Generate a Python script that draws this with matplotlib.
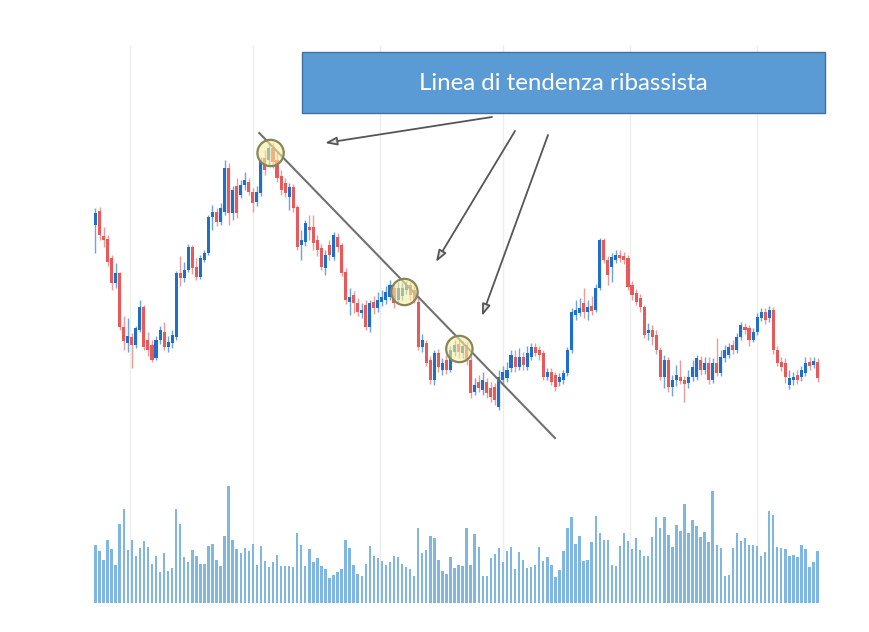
import matplotlib
matplotlib.use("Agg")
import matplotlib.pyplot as plt
from matplotlib.patches import Rectangle, FancyArrowPatch

# ---------------- data ----------------
opens = [275,289,264,261,242,217,227,173,157,163,155,170,193,160,155,142,160,168,153,157,
         163,227,222,230,253,233,223,240,247,283,288,278,288,332,287,314,305,315,318,308,
         298,307,342,340,352,340,324,317,303,313,293,255,258,273,273,260,252,232,255,243,
         263,255,228,198,205,197,187,195,173,198,192,198,200,203,212,200,204,210,215,210,
         198,153,157,140,120,147,130,140,130,148,156,147,155,140,108,118,110,118,112,113,
         93,120,122,132,143,133,143,133,143,153,150,147,123,128,125,118,120,127,150,185,
         187,197,188,194,190,212,260,240,233,240,245,244,242,215,207,202,193,167,170,165,
         150,123,140,113,120,123,120,117,123,123,140,130,137,120,137,127,142,145,155,150,
         163,173,172,160,168,182,188,182,190,150,138,137,115,120,125,123,127,138,135,138]
highs = [292,293,273,265,245,237,228,184,182,167,174,200,195,168,160,164,174,178,164,170,
         229,244,238,256,255,242,245,250,285,295,292,297,340,337,314,322,320,328,322,312,
         314,343,350,357,357,348,330,322,317,316,295,270,280,285,285,265,256,250,260,268,
         267,257,232,212,209,202,197,200,200,204,208,210,214,220,216,218,217,219,218,214,
         203,166,160,144,150,151,142,145,154,160,160,159,158,144,122,125,128,122,118,117,
         130,134,138,150,150,152,148,154,157,157,154,150,132,132,128,127,130,153,192,200,
         202,212,200,204,216,262,262,244,247,250,250,248,245,219,211,206,195,177,175,170,
         153,145,143,125,135,140,124,130,140,145,144,143,143,142,162,150,155,157,160,167,
         178,177,175,172,187,192,192,194,193,154,143,142,130,128,130,134,143,143,143,142]
lows = [247,260,253,234,210,212,170,150,148,132,152,168,150,144,138,140,156,150,148,152,
        160,214,218,228,226,220,221,238,245,270,274,275,285,275,280,282,302,310,305,288,
        294,304,325,335,332,318,305,303,290,288,250,240,254,260,250,244,230,225,240,240,
        248,224,196,185,187,184,182,170,168,186,188,194,196,200,192,197,200,206,200,197,
        150,148,134,116,115,128,125,126,128,144,142,142,135,102,105,108,105,102,98,95,
        90,116,118,128,128,130,130,130,140,144,140,120,120,115,109,114,116,124,147,180,
        184,182,180,185,188,210,237,215,218,237,238,236,210,200,195,188,162,160,155,146,
        120,112,108,104,114,116,98,112,119,120,125,126,116,117,124,124,138,142,146,147,
        160,166,154,158,165,179,176,178,146,134,129,117,111,115,116,119,124,130,132,118]
closes = [287,265,260,238,217,227,173,159,164,155,172,193,153,150,140,160,170,153,158,165,
          227,222,230,253,232,223,242,247,283,288,278,292,332,287,310,287,315,320,308,297,
          308,340,330,352,338,322,310,307,313,292,253,260,277,270,257,250,233,245,245,265,
          253,227,200,203,197,188,190,173,197,192,200,203,208,215,197,212,212,215,205,200,
          153,160,137,120,147,133,137,130,150,155,148,154,140,107,115,112,120,107,103,100,
          123,128,130,145,133,143,135,147,153,147,145,123,128,118,113,123,127,150,188,190,
          192,188,193,189,212,260,240,225,243,245,242,240,213,205,198,193,165,170,163,150,
          123,140,113,120,125,119,116,123,133,142,130,137,120,137,127,143,150,153,150,163,
          175,170,160,168,183,188,180,190,150,137,133,123,122,123,120,130,137,134,139,122]
volumes = [175,155,130,190,162,115,238,282,158,190,140,165,185,168,118,142,92,150,95,105,
           282,238,138,122,160,140,118,118,172,178,128,112,200,352,188,162,150,165,155,178,
           115,170,125,108,122,145,112,112,112,108,210,175,112,162,122,134,112,102,74,85,
           92,102,188,165,115,87,82,118,172,140,135,125,115,122,140,138,118,108,102,82,
           225,150,160,200,195,130,95,87,137,105,115,112,225,115,207,168,82,82,135,148,
           165,122,155,168,102,153,128,105,108,115,168,125,137,115,77,100,157,225,257,178,
           200,125,130,182,260,210,188,190,115,112,172,210,185,162,194,158,142,142,198,257,
           225,257,204,168,235,215,298,210,250,232,198,213,182,335,175,165,82,85,165,210,
           187,194,175,175,172,140,153,275,264,168,165,163,140,143,137,175,162,108,122,155]
grid_idx = [8.5, 39, 70.5, 101, 132.5, 164]

# trend line and touch points (index, price)
trend_x = [40.6, 113.9]
trend_y = [367, 62]
touch_x = [43.4, 76.6, 90.2]
touch_y = [347, 208, 151]

title_text = "Linea di tendenza ribassista"

# ---------------- layout ----------------
W, H = 870, 632
fig = plt.figure(figsize=(W / 100, H / 100), dpi=100)
fig.patch.set_facecolor("white")

x0px, step = 95.5, 4.034          # pixel of first candle, px per candle


def fx(px):
    return px / W


def fy(py):
    return 1 - py / H


ax = fig.add_axes([0, 0, 1, 1])
axv = fig.add_axes([0, 0, 1, 1])
for a in (ax, axv):
    a.set_xlim(-x0px / step, (W - x0px) / step)
    a.axis("off")
    a.patch.set_alpha(0)
ax.set_ylim(500 - H, 500)            # price unit == 1 px
axv.set_ylim(-(H - 603) * 3, 603 * 3)  # volume baseline at y=603px
ax.set_zorder(2)
axv.set_zorder(1)

# vertical grid lines
axv.vlines(grid_idx, 0, (603 - 45) * 3, colors="#ededed", linewidth=1, zorder=0)

# volume bars
n = len(closes)
xs = list(range(n))
axv.bar(xs, volumes, width=0.6, color="#80b7e2", edgecolor="none", zorder=1)

# candles
blue, red = "#1e6fc8", "#e85a5a"
blue_w, red_w = "#6ea3dc", "#ef9a9a"
for i in xs:
    o, h, l, c = opens[i], highs[i], lows[i], closes[i]
    up = c >= o
    ax.vlines(i, l, h, colors=blue_w if up else red_w, linewidth=1.0, zorder=2)
    lo, hi = min(o, c), max(o, c)
    ax.add_patch(Rectangle((i - 0.38, lo), 0.76, max(hi - lo, 1.2),
                           facecolor=blue if up else red, edgecolor="none", zorder=3))

# trend line
ax.plot(trend_x, trend_y, color="#707070", linewidth=1.5, zorder=5)

# touch circles
ax.scatter(touch_x, touch_y, s=360, facecolor="#f6eda0", alpha=0.6,
           edgecolor="none", zorder=6)
ax.scatter(touch_x, touch_y, s=360, facecolor="none",
           edgecolor="#86865a", linewidth=1.6, zorder=7)

# title box
fig.patches.append(Rectangle((fx(302), fy(113)), fx(825) - fx(302), fy(52) - fy(113),
                             transform=fig.transFigure, facecolor="#5b9bd5",
                             edgecolor="#41719c", linewidth=1.0, zorder=8))
fig.text(fx(563), fy(83), title_text, color="white", fontsize=17.3,
         family=["Lato", "DejaVu Sans"], ha="center", va="center", zorder=9)

# arrows
arrows = [((492, 117), (325, 143)), ((515, 131), (436, 262)), ((548, 135), (482, 316))]
for (sx, sy), (ex, ey) in arrows:
    fig.patches.append(FancyArrowPatch((fx(sx), fy(sy)), (fx(ex), fy(ey)),
                                       transform=fig.transFigure,
                                       arrowstyle="-|>,head_length=7,head_width=2.5",
                                       mutation_scale=1, edgecolor="#555555",
                                       facecolor="#e0e0e0", linewidth=1.3,
                                       shrinkA=0, shrinkB=0, zorder=9))

fig.savefig("out.png", dpi=100, facecolor="white")
